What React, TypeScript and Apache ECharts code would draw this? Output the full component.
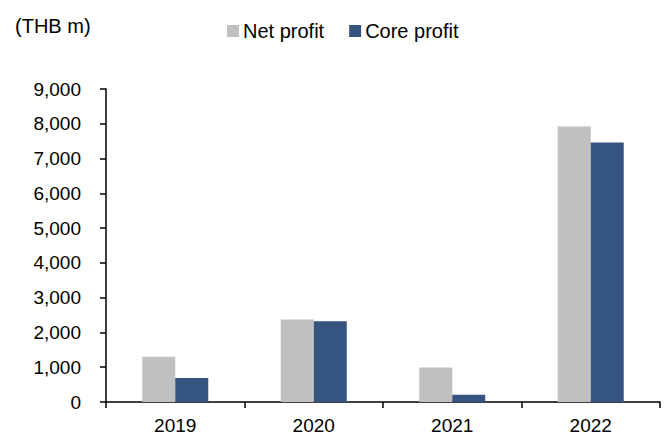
import React, { useEffect, useRef } from "react";
import * as echarts from "echarts";

const categories = ["2019", "2020", "2021", "2022"];
const netProfit = [1300, 2370, 990, 7920];
const coreProfit = [690, 2320, 210, 7460];
const yTicks = { min: 0, max: 9000, interval: 1000 };

export default function App() {
  const ref = useRef<HTMLDivElement>(null);
  useEffect(() => {
    if (!ref.current) return;
    const chart = echarts.init(ref.current, undefined, { renderer: "svg" });
    const font = "'Liberation Sans', Arial, sans-serif";
    chart.setOption({
      animation: false,
      textStyle: { fontFamily: font },
      graphic: [
        {
          type: "text",
          left: 15,
          top: 16,
          style: { text: "(THB m)", font: `20px ${font}`, fill: "#000" },
        },
      ],
      legend: {
        left: 222,
        top: 16,
        padding: 5,
        itemWidth: 12,
        itemHeight: 12,
        itemGap: 25,
        icon: "rect",
        textStyle: { fontSize: 20, color: "#000", fontFamily: font, padding: [0, 0, 0, -1] },
        data: ["Net profit", "Core profit"],
      },
      grid: { left: 106, right: 6, top: 89, bottom: 34, containLabel: false },
      xAxis: {
        type: "category",
        data: categories,
        axisLine: { lineStyle: { color: "#000", width: 1.5 } },
        axisTick: { show: true, length: 6, lineStyle: { color: "#000", width: 1.5 } },
        axisLabel: { color: "#000", fontSize: 19, fontFamily: font, margin: 14 },
      },
      yAxis: {
        type: "value",
        min: yTicks.min,
        max: yTicks.max,
        interval: yTicks.interval,
        axisLine: { show: true, lineStyle: { color: "#000", width: 1.5 } },
        axisTick: { show: true, length: 6, lineStyle: { color: "#000", width: 1.5 } },
        splitLine: { show: false },
        axisLabel: {
          color: "#000",
          fontSize: 19,
          fontFamily: font,
          margin: 25,
          formatter: (v: number) => v.toLocaleString("en-US"),
        },
      },
      series: [
        {
          name: "Net profit",
          type: "bar",
          data: netProfit,
          barWidth: 33,
          barGap: "0%",
          itemStyle: { color: "#C0C0C0" },
        },
        {
          name: "Core profit",
          type: "bar",
          data: coreProfit,
          barWidth: 33,
          barGap: "0%",
          itemStyle: { color: "#355480" },
        },
      ],
    });
    return () => chart.dispose();
  }, []);
  return <div ref={ref} style={{ width: 666, height: 436, position: "absolute", left: 0, top: 0 }} />;
}
